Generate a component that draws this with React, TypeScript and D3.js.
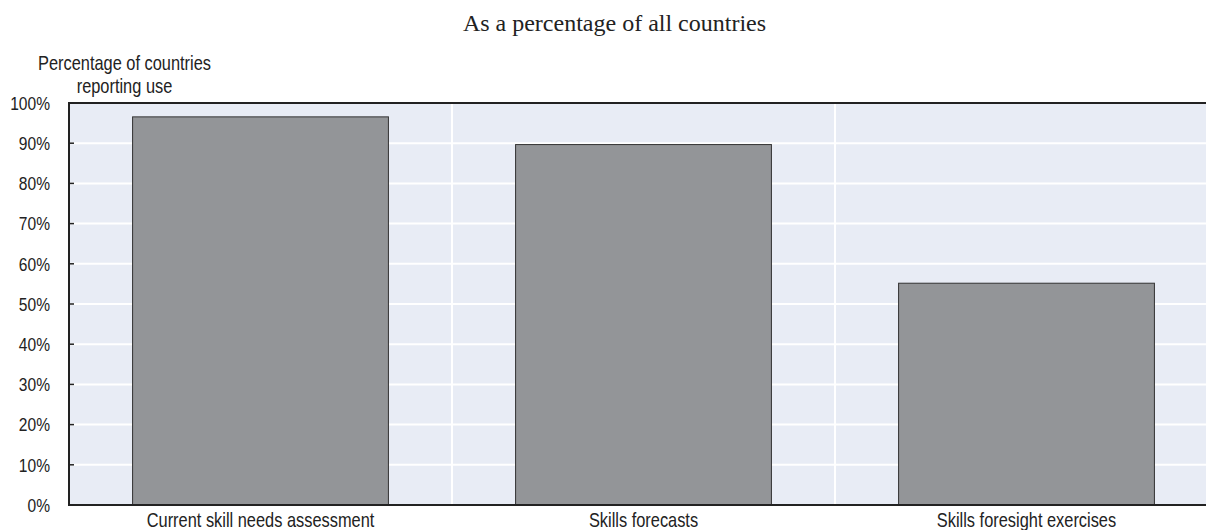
import React from "react";
import * as d3 from "d3";

const categories = ["Current skill needs assessment", "Skills forecasts", "Skills foresight exercises"];
const values = [96.55, 89.66, 55.17];
const yTicks = [0, 10, 20, 30, 40, 50, 60, 70, 80, 90, 100];
const title = "As a percentage of all countries";
const yLabel = ["Percentage of countries", "reporting use"];

const W = 1206;
const H = 530;
const left = 69;
const right = 1218;
const top = 103;
const bottom = 505;
const sans = "'Liberation Sans', Arial, sans-serif";
const narrow = 0.82;

function NText({ x, y, size, anchor, dy, children }: { x: number; y: number; size: number; anchor: string; dy?: string; children: React.ReactNode }) {
  return (
    <g transform={`translate(${x},${y}) scale(${narrow},1)`}>
      <text x={0} y={0} dy={dy} textAnchor={anchor as any} fontFamily={sans} fontSize={size} fill="#222">
        {children}
      </text>
    </g>
  );
}

export default function App() {
  const x = d3.scaleBand<string>().domain(categories).range([left, right]).paddingInner(0.332).paddingOuter(0.166);
  const y = d3.scaleLinear().domain([0, 100]).range([bottom, top]);
  const step = x.step();
  const bounds = d3.range(1, categories.length).map((i) => left + step * i);
  return (
    <svg width={W} height={H} style={{ position: "absolute", left: 0, top: 0, display: "block" }}>
      <rect x={0} y={0} width={W} height={H} fill="#fff" />
      <text x={614.5} y={31} textAnchor="middle" fontFamily="'Liberation Serif', 'Times New Roman', serif" fontSize={24} fill="#222">
        {title}
      </text>
      <rect x={left} y={top} width={right - left} height={bottom - top} fill="#E8ECF5" />
      {yTicks.filter((t) => t > 0 && t < 100).map((t) => (
        <line key={"g" + t} x1={left} x2={right} y1={y(t)} y2={y(t)} stroke="#fff" strokeWidth={2} />
      ))}
      {bounds.map((b, i) => (
        <line key={"v" + i} x1={b} x2={b} y1={top} y2={bottom} stroke="#fff" strokeWidth={2} />
      ))}
      {categories.map((c, i) => (
        <rect
          key={c}
          x={x(c)!}
          y={y(values[i])}
          width={x.bandwidth()}
          height={bottom - y(values[i])}
          fill="#939598"
          stroke="#333"
          strokeWidth={1}
        />
      ))}
      <line x1={left} x2={right} y1={top} y2={top} stroke="#222" strokeWidth={2} />
      <line x1={left} x2={right} y1={bottom} y2={bottom} stroke="#222" strokeWidth={2} />
      <line x1={left} x2={left} y1={top - 1} y2={bottom + 1} stroke="#222" strokeWidth={2} />
      {yTicks.map((t) => (
        <g key={"t" + t}>
          <line x1={left} x2={left + 5} y1={y(t)} y2={y(t)} stroke="#222" strokeWidth={1.5} />
          <NText x={50} y={y(t)} dy="0.36em" anchor="end" size={19}>
            {t + "%"}
          </NText>
        </g>
      ))}
      {categories.map((c) => (
        <NText key={"l" + c} x={x(c)! + x.bandwidth() / 2} y={527} anchor="middle" size={20}>
          {c}
        </NText>
      ))}
      {yLabel.map((l, i) => (
        <NText key={"y" + i} x={124.5} y={70 + i * 22.5} anchor="middle" size={20}>
          {l}
        </NText>
      ))}
    </svg>
  );
}
